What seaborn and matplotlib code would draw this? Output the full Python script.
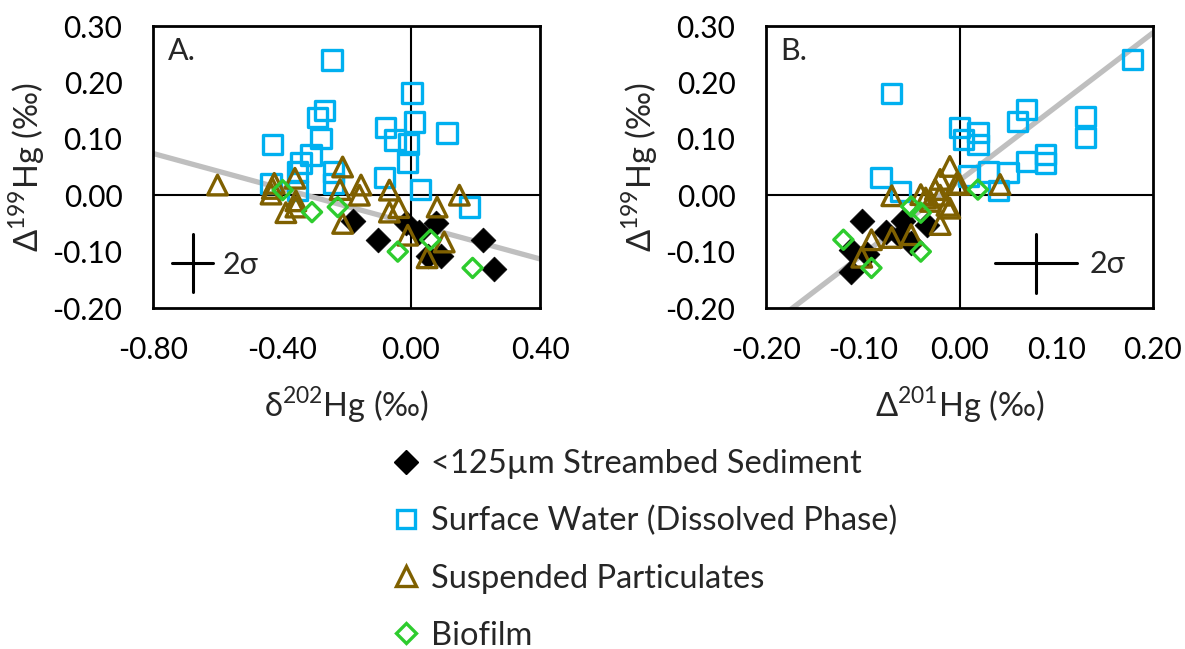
import numpy as np
import pandas as pd
import matplotlib
matplotlib.use("Agg")
import matplotlib.pyplot as plt
from matplotlib.lines import Line2D
import seaborn as sns

# ---------------- data ----------------
series_names = ["<125µm Streambed Sediment", "Surface Water (Dissolved Phase)",
                "Suspended Particulates", "Biofilm"]

# Panel A: d202Hg (x) vs D199Hg (y)
sed_A_x = [-0.18, -0.103, -0.016, 0.026, 0.078, 0.052, 0.093, 0.222, 0.258]
sed_A_y = [-0.046, -0.080, -0.050, -0.065, -0.050, -0.108, -0.108, -0.080, -0.130]
sw_A_x = [-0.245, 0.003, -0.29, -0.269, -0.08, 0.01, 0.112, -0.429, -0.279, -0.05,
          -0.008, -0.31, -0.341, -0.01, -0.351, -0.24, -0.082, -0.434, -0.24, 0.03,
          0.182, -0.351]
sw_A_y = [0.240, 0.181, 0.138, 0.150, 0.120, 0.130, 0.110, 0.090, 0.101, 0.098,
          0.091, 0.071, 0.057, 0.059, 0.041, 0.041, 0.031, 0.021, 0.021, 0.010,
          -0.021, 0.008]
sp_A_x = [-0.60, -0.212, -0.36, -0.43, -0.434, -0.424, -0.388, -0.357, -0.357, -0.22,
          -0.155, -0.16, -0.212, -0.067, -0.038, -0.067, 0.081, 0.15, -0.01, 0.103, 0.05]
sp_A_y = [0.018, 0.050, 0.030, 0.012, 0.002, 0.021, -0.031, -0.010, -0.021, 0.010,
          0.018, 0.000, -0.050, 0.009, -0.022, -0.030, -0.021, 0.000, -0.071, -0.083, -0.111]
bf_A_x = [-0.398, -0.307, -0.227, -0.041, 0.06, 0.191]
bf_A_y = [0.009, -0.030, -0.021, -0.100, -0.079, -0.129]
trend_A_x = [-0.80, 0.40]
trend_A_y = [0.074, -0.113]

# Panel B: D201Hg (x) vs D199Hg (y)
sed_B_x = [-0.101, -0.112, -0.112, -0.076, -0.062, -0.058, -0.050, -0.034, -0.096]
sed_B_y = [-0.046, -0.097, -0.136, -0.065, -0.073, -0.046, -0.085, -0.052, -0.104]
sw_B_x = [0.179, -0.070, 0.069, 0.060, 0.130, 0.130, 0.000, 0.004, 0.019, 0.019,
          -0.081, -0.061, 0.009, 0.030, 0.050, 0.069, 0.089, 0.089, 0.040]
sw_B_y = [0.241, 0.180, 0.152, 0.131, 0.140, 0.102, 0.120, 0.099, 0.111, 0.090,
          0.031, 0.007, 0.034, 0.041, 0.040, 0.060, 0.072, 0.057, 0.008]
sp_B_x = [-0.070, -0.040, -0.030, -0.020, -0.010, 0.000, -0.010, -0.020, -0.050,
          -0.070, -0.091, -0.101, 0.042, -0.003, -0.013, -0.020, -0.025, -0.035]
sp_B_y = [-0.001, 0.001, -0.011, 0.028, 0.051, 0.019, -0.023, -0.052, -0.070,
          -0.075, -0.079, -0.110, 0.019, 0.021, -0.018, 0.000, 0.010, -0.005]
bf_B_x = [-0.120, -0.091, -0.050, -0.040, -0.040, 0.019]
bf_B_y = [-0.079, -0.129, -0.020, -0.031, -0.100, 0.010]
trend_B_x = [-0.20, 0.20]
trend_B_y = [-0.236, 0.288]

# 2-sigma error crosses (center, half-widths)
err_A = dict(x=-0.677, y=-0.120, dx=0.064, dy=0.052)
err_B = dict(x=0.079, y=-0.121, dx=0.042, dy=0.052)

y_ticks = [-0.20, -0.10, 0.00, 0.10, 0.20, 0.30]
y_tick_labels = ["-0.20", "-0.10", "0.00", "0.10", "0.20", "0.30"]
xA_ticks = [-0.80, -0.40, 0.00, 0.40]
xA_tick_labels = ["-0.80", "-0.40", "0.00", "0.40"]
xB_ticks = [-0.20, -0.10, 0.00, 0.10, 0.20]
xB_tick_labels = ["-0.20", "-0.10", "0.00", "0.10", "0.20"]

# ---------------- style ----------------
sns.set_style("white")
plt.rcParams["font.family"] = ["Lato", "DejaVu Sans"]
plt.rcParams["mathtext.fontset"] = "custom"
plt.rcParams["mathtext.rm"] = "Lato"

FS_TICK = 21.5
FS_LAB = 23.5
FS_LEG = 23.5
FS_TXT = 22
C_SED = "black"
C_SW = "#00B0F0"
C_SP = "#7F6000"
C_BF = "#2ECC2E"
C_TREND = "#BFBFBF"

fig = plt.figure(figsize=(11.85, 6.49), dpi=100)
axA = fig.add_axes([153 / 1185, 1 - 308 / 649, 387 / 1185, 282 / 649])
axB = fig.add_axes([766 / 1185, 1 - 308 / 649, 387 / 1185, 282 / 649])


def draw_panel(ax, sed, sw, sp, bf, trend, err, xlim, xticks, xticklabels, label, xlabel, sig_xy):
    ax.set_xlim(*xlim)
    ax.set_ylim(-0.20, 0.30)
    ax.axhline(0, color="black", lw=1.5, zorder=1)
    ax.axvline(0, color="black", lw=1.5, zorder=1)
    sns.lineplot(x=trend[0], y=trend[1], ax=ax, color=C_TREND, lw=3.8, zorder=2)
    df_sed = pd.DataFrame({"x": sed[0], "y": sed[1]})
    df_sw = pd.DataFrame({"x": sw[0], "y": sw[1]})
    df_sp = pd.DataFrame({"x": sp[0], "y": sp[1]})
    df_bf = pd.DataFrame({"x": bf[0], "y": bf[1]})
    sns.scatterplot(data=df_sed, x="x", y="y", ax=ax, marker="D", s=160,
                    color=C_SED, edgecolor=C_SED, linewidth=0.5, zorder=3)
    sns.scatterplot(data=df_sw, x="x", y="y", ax=ax, marker="s", s=195,
                    facecolors="none", edgecolors=C_SW, linewidth=2.4, zorder=4)
    sns.scatterplot(data=df_sp, x="x", y="y", ax=ax, marker="^", s=200,
                    facecolors="none", edgecolors=C_SP, linewidth=2.4, zorder=5)
    sns.scatterplot(data=df_bf, x="x", y="y", ax=ax, marker="D", s=95,
                    facecolors="none", edgecolors=C_BF, linewidth=2.4, zorder=6)
    # 2 sigma cross
    ax.plot([err["x"] - err["dx"], err["x"] + err["dx"]], [err["y"], err["y"]],
            color="black", lw=2.2, zorder=7)
    ax.plot([err["x"], err["x"]], [err["y"] - err["dy"], err["y"] + err["dy"]],
            color="black", lw=2.2, zorder=7)
    ax.text(sig_xy[0], sig_xy[1], "2σ", fontsize=FS_TXT, va="center", ha="left",
            family=["Lato", "DejaVu Sans"])
    ax.text(0.038, 0.96, label, transform=ax.transAxes, fontsize=FS_TXT, va="top", ha="left")

    ax.set_xticks(xticks)
    ax.set_xticklabels(xticklabels)
    ax.set_yticks(y_ticks)
    ax.set_yticklabels(y_tick_labels)
    ax.tick_params(axis="both", direction="in", length=7, width=1.5, labelsize=FS_TICK,
                   colors="black")
    ax.tick_params(axis="y", pad=22)
    ax.tick_params(axis="x", pad=20)
    for sp_ in ax.spines.values():
        sp_.set_color("black")
        sp_.set_linewidth(2.0)
    ax.set_xlabel(xlabel, fontsize=FS_LAB, labelpad=15)
    ax.set_ylabel("Δ$^{\\mathregular{199}}$Hg (‰)", fontsize=FS_LAB, labelpad=4)
    ax.grid(False)


draw_panel(axA, (sed_A_x, sed_A_y), (sw_A_x, sw_A_y), (sp_A_x, sp_A_y), (bf_A_x, bf_A_y),
           (trend_A_x, trend_A_y), err_A, (-0.80, 0.40), xA_ticks, xA_tick_labels, "A.",
           "δ$^{\\mathregular{202}}$Hg (‰)", (-0.585, -0.124))
draw_panel(axB, (sed_B_x, sed_B_y), (sw_B_x, sw_B_y), (sp_B_x, sp_B_y), (bf_B_x, bf_B_y),
           (trend_B_x, trend_B_y), err_B, (-0.20, 0.20), xB_ticks, xB_tick_labels, "B.",
           "Δ$^{\\mathregular{201}}$Hg (‰)", (0.134, -0.122))

handles = [
    Line2D([], [], ls="none", marker="D", markersize=12, color=C_SED, mec=C_SED),
    Line2D([], [], ls="none", marker="s", markersize=13, mfc="none", mec=C_SW, mew=2.4),
    Line2D([], [], ls="none", marker="^", markersize=14, mfc="none", mec=C_SP, mew=2.4),
    Line2D([], [], ls="none", marker="D", markersize=10, mfc="none", mec=C_BF, mew=2.4),
]
fig.legend(handles, series_names, loc="upper left", bbox_to_anchor=(390 / 1185, 1 - 449 / 649),
           frameon=False, fontsize=FS_LEG, handlelength=0.95, handletextpad=0.3,
           labelspacing=0.83, borderpad=0, borderaxespad=0)

fig.savefig("out.png", dpi=100)
